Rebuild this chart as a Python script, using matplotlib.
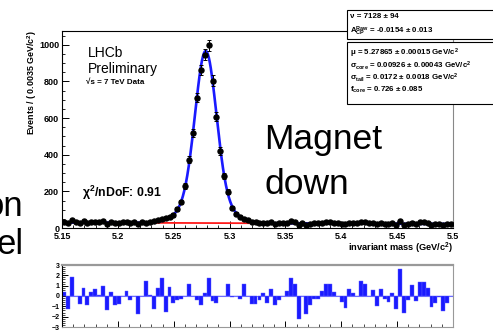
import numpy as np
import matplotlib; matplotlib.use("Agg")
import matplotlib.pyplot as plt
from matplotlib.patches import Rectangle

plt.rcParams['font.family'] = ['Liberation Sans', 'DejaVu Sans']
plt.rcParams['mathtext.fontset'] = 'custom'
plt.rcParams['mathtext.rm'] = 'Liberation Sans'
plt.rcParams['mathtext.bf'] = 'Liberation Sans:bold'
plt.rcParams['mathtext.it'] = 'Liberation Sans:italic'

# --- data ---
m_lo, m_hi, bw = 5.15, 5.5, 0.0035
counts = [34, 25, 42, 31, 27, 36, 26, 34, 35, 32, 37, 23, 33, 26, 27, 31, 34, 29, 31, 22,
          31, 30, 31, 38, 44, 48, 57, 62, 71, 103, 141, 229, 373, 520, 712, 862, 945, 996, 804, 608,
          421, 284, 197, 110, 78, 62, 50, 44, 35, 31,
          29, 30, 25, 31, 24, 27, 28, 30, 37, 33, 16, 28, 18, 23, 26, 26, 30, 32, 32, 29,
          27, 24, 21, 29, 28, 26, 33, 31, 25, 28, 21, 28, 24, 22, 27, 19, 40, 17, 23, 30,
          22, 31, 31, 28, 19, 21, 23, 17, 20, 23]
pulls = [0.4, -1.3, 1.8, 0.0, -0.8, 0.8, -0.9, 0.4, 0.7, 0.1, 1.0, -1.4, 0.35, -0.9, -0.75, 0.0, 0.45, -0.35, 0.0, -1.7,
         0.0, 1.45, 0.1, -1.3, 0.8, 1.75, -1.5, 0.9, -0.65, -0.4, -0.3, 0.0, 1.2, 0.0, -0.4, -0.9, 0.3, 1.75, -0.5, -0.65,
         0.0, 0.0, 1.2, -0.1, 0.0, -0.3, 1.2, 0.0, -0.75, -0.75, -0.4, 0.25, -0.65, 0.7, -0.9, -0.4, 0.0, 0.5, 1.75, 1.2,
         -2.2, 0.0, -1.7, -0.9, -0.3, -0.3, 0.5, 1.2, 1.2, 0.4, 0.0, -0.6, -1.2, 0.65, 0.3, 0.0, 1.45, 1.2, 0.0, 0.55,
         -0.95, 0.65, -0.25, -0.55, 0.3, -1.3, 2.6, -1.65, -0.4, 1.1, -0.5, 1.35, 1.35, 0.8, -1.1, -0.7, -0.1, -1.45, -0.65, 0.0]
# fit parameters as printed in the boxes
n_sig, mu, s_core, s_tail, f_core = 7128, 5.27865, 0.00926, 0.0172, 0.726
bkg_lo, bkg_hi = 30, 22

centers = m_lo + bw*(np.arange(len(counts))+0.5)
counts = np.array(counts, float)

W, H = 493, 331
fig = plt.figure(figsize=(W/100, H/100), dpi=100)
def fx(px): return px/W
def fy(py): return 1-py/H

ax = fig.add_axes([fx(62), fy(228), fx(453)-fx(62), fy(31)-fy(228)])
ax.set_xlim(m_lo, m_hi); ax.set_ylim(0, 1075)

xs = np.linspace(m_lo, m_hi, 800)
bkg = bkg_lo + (bkg_hi-bkg_lo)*(xs-m_lo)/(m_hi-m_lo)
g = lambda x, s: np.exp(-0.5*((x-mu)/s)**2)/(np.sqrt(2*np.pi)*s)
sig = n_sig*bw*(f_core*g(xs, s_core) + (1-f_core)*g(xs, s_tail))
ax.plot(xs, bkg, color='#ff1a1a', lw=1.3, zorder=2)
ax.plot(xs, bkg+sig, color='#1a1aff', lw=1.9, zorder=3)
ax.errorbar(centers, counts, yerr=np.sqrt(counts), fmt='o', color='black', ms=3.6,
            elinewidth=0.7, capsize=1.2, capthick=0.7, zorder=4)

ax.set_yticks([0, 200, 400, 600, 800, 1000])
ax.set_yticks(np.arange(0, 1076, 50), minor=True)
ax.set_xticks([5.15, 5.2, 5.25, 5.3, 5.35, 5.4, 5.45, 5.5])
ax.set_xticklabels(['5.15', '5.2', '5.25', '5.3', '5.35', '5.4', '5.45', '5.5'])
ax.set_xticks(np.arange(5.15, 5.5001, 0.01), minor=True)
ax.tick_params(direction='in', length=5, width=0.7, labelsize=6.5, pad=2)
ax.tick_params(axis='x', pad=3)
ax.tick_params(which='minor', direction='in', length=2.5, width=0.6)
for lab in ax.get_xticklabels() + ax.get_yticklabels(): lab.set_fontweight('bold')
for s in ax.spines.values(): s.set_linewidth(0.8)
ax.spines['right'].set_color('#888888')

fig.text(fx(453), fy(248), 'invariant mass (GeV/c$^\\mathbf{2}$)', ha='right', va='center', fontsize=6.7, fontweight='bold')
fig.text(fx(32), fy(30), 'Events / ( 0.0035 GeV/c$^\\mathbf{2}$)', rotation=90, ha='center', va='top', fontsize=6.4, fontweight='bold')
fig.text(fx(88), fy(53), 'LHCb', ha='left', va='center', fontsize=10)
fig.text(fx(88), fy(69), 'Preliminary', ha='left', va='center', fontsize=10)
fig.text(fx(86), fy(83), '√s = 7 TeV Data', ha='left', va='center', fontsize=5.8, fontweight='bold')
fig.text(fx(82), fy(193), 'χ$^\\mathbf{2}$/nDoF: 0.91', ha='left', va='center', fontsize=8.8, fontweight='bold')
fig.text(fx(264), fy(140), 'Magnet', ha='left', va='center', fontsize=25.5)
fig.text(fx(264), fy(184), 'down', ha='left', va='center', fontsize=25.5)
# slide text cut by the left edge of the crop
fig.text(fx(23), fy(207), 'on', ha='right', va='center', fontsize=25)
fig.text(fx(24), fy(245), 'el', ha='right', va='center', fontsize=25)

# parameter boxes
fig.add_artist(Rectangle((fx(347), fy(38.5)), 1, fy(10)-fy(38.5), transform=fig.transFigure,
                         facecolor='white', edgecolor='black', lw=0.8, zorder=5))
fig.add_artist(Rectangle((fx(347), fy(103.5)), 1, fy(42.5)-fy(103.5), transform=fig.transFigure,
                         facecolor='white', edgecolor='black', lw=0.8, zorder=5))
box_lines = [(16, 'ν = 7128 ± 94'), (31, 'A$_{\\mathbf{CP}}^{\\mathbf{Raw}}$ = -0.0154 ± 0.013'),
             (53.5, 'μ = 5.27865 ± 0.00015 GeV/c$^\\mathbf{2}$'),
             (65.5, 'σ$_{\\mathbf{core}}$ = 0.00926 ± 0.00043 GeV/c$^\\mathbf{2}$'),
             (77.5, 'σ$_{\\mathbf{tail}}$ = 0.0172 ± 0.0018 GeV/c$^\\mathbf{2}$'),
             (89.5, 'f$_{\\mathbf{core}}$ = 0.726 ± 0.085')]
for py, t in box_lines:
    fig.text(fx(350), fy(py), t, ha='left', va='center', fontsize=5.7, fontweight='bold', zorder=6)

# residual panel
rx = fig.add_axes([fx(62), fy(327), fx(453)-fx(62), fy(265)-fy(327)])
rx.set_xlim(m_lo, m_hi); rx.set_ylim(-3, 3)
rx.axhline(0, color='#7070ff', lw=0.8, zorder=1)
rx.bar(centers, pulls, width=bw, color='#1a1aff', edgecolor='#6060ff', lw=0.3, zorder=2)
rx.set_yticks([-3, -2, -1, 0, 1, 2, 3])
rx.set_yticks(np.arange(-3, 3.01, 0.2), minor=True)
rx.set_xticks([5.15, 5.2, 5.25, 5.3, 5.35, 5.4, 5.45, 5.5])
rx.set_xticks(np.arange(5.15, 5.5001, 0.01), minor=True)
rx.set_xticklabels([])
rx.tick_params(direction='in', length=4, width=0.7, labelsize=5, pad=1.5)
rx.tick_params(which='minor', direction='in', length=2, width=0.5)
for lab in rx.get_yticklabels(): lab.set_fontweight('bold')
for s in rx.spines.values(): s.set_color('#999999'); s.set_linewidth(0.8)
rx.spines['top'].set_linewidth(1.6)
rx.spines['left'].set_color('black')

fig.savefig('out.png', dpi=100, facecolor='white')
